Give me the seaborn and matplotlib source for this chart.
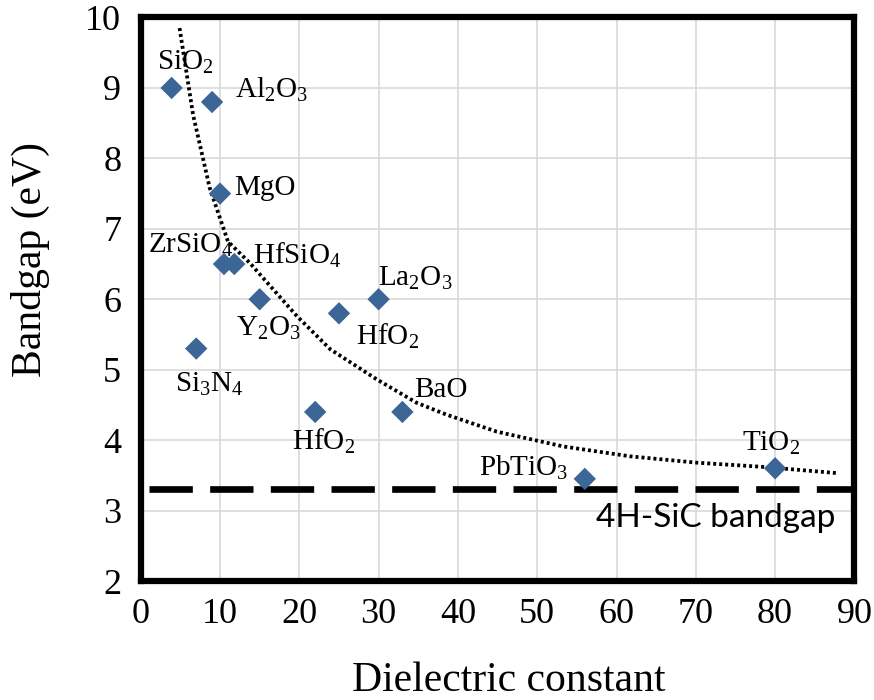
import matplotlib
matplotlib.use("Agg")
import matplotlib.pyplot as plt
import seaborn as sns
import pandas as pd

# ---- data ----
materials = ["SiO2", "Al2O3", "MgO", "ZrSiO4", "HfSiO4", "Y2O3", "HfO2_a",
             "La2O3", "Si3N4", "HfO2_b", "BaO", "PbTiO3", "TiO2"]
labels = [r"SiO$_2$", r"Al$_2$O$_3$", "MgO", r"ZrSiO$_4$", r"HfSiO$_4$",
          r"Y$_2$O$_3$", r"HfO$_2$", r"La$_2$O$_3$", r"Si$_3$N$_4$",
          r"HfO$_2$", "BaO", r"PbTiO$_3$", r"TiO$_2$"]
dielectric = [3.9, 9.0, 10.0, 10.5, 11.8, 15.0, 25.0, 30.0, 7.0, 22.0, 33.0, 56.0, 80.0]
bandgap = [9.0, 8.8, 7.5, 6.5, 6.5, 6.0, 5.8, 6.0, 5.3, 4.4, 4.4, 3.45, 3.6]

# trend line (dotted)
trend_x = [4.9, 6.6, 8.7, 11.0, 13.8, 19.7, 23.9, 29.8, 34.8, 38.6, 44.9, 53.3, 61.7, 70.1, 78.5, 88.0]
trend_y = [9.85, 8.62, 7.58, 6.82, 6.51, 5.76, 5.29, 4.86, 4.53, 4.36, 4.12, 3.91, 3.77, 3.68, 3.62, 3.53]

# 4H-SiC bandgap reference line
sic_x = [1.0, 90.0]
sic_y = [3.3, 3.3]

x_ticks = list(range(0, 91, 10))
y_ticks = list(range(2, 11, 1))

# label offsets in pixels (dx, dy) and horizontal alignment
label_offsets = {
    "SiO2": (-15, 18, "left"), "Al2O3": (23, 4, "left"), "MgO": (14, -1, "left"),
    "ZrSiO4": (-76, 11, "left"), "HfSiO4": (19, 0, "left"), "Y2O3": (-24, -37, "left"),
    "HfO2_a": (17, -31, "left"), "La2O3": (-1, 13, "left"), "Si3N4": (-21, -43, "left"),
    "HfO2_b": (-23, -38, "left"), "BaO": (12, 15, "left"), "PbTiO3": (-16, 3, "right"),
    "TiO2": (-33, 17, "left"),
}

df = pd.DataFrame({"material": materials, "label": labels,
                   "k": dielectric, "Eg": bandgap})
trend = pd.DataFrame({"k": trend_x, "Eg": trend_y})
sic = pd.DataFrame({"k": sic_x, "Eg": sic_y})

sns.set_theme(style="white")
plt.rcParams["font.family"] = ["Liberation Serif", "DejaVu Serif"]
plt.rcParams["text.color"] = "black"
plt.rcParams["mathtext.fontset"] = "custom"
plt.rcParams["mathtext.rm"] = "Liberation Serif"
plt.rcParams["mathtext.it"] = "Liberation Serif:italic"
plt.rcParams["mathtext.bf"] = "Liberation Serif:bold"

fig = plt.figure(figsize=(8.74, 7.0), dpi=100)
ax = fig.add_axes([0.161, 0.17, 0.8166, 0.805])

sns.lineplot(data=sic, x="k", y="Eg", ax=ax, color="black", linewidth=4.8,
             zorder=2)
ax.lines[-1].set_dashes((6.5, 2.6))
sns.lineplot(data=trend, x="k", y="Eg", ax=ax, color="black", linewidth=2.7,
             zorder=3)
ax.lines[-1].set_dashes((0.8, 0.8))
sns.scatterplot(data=df, x="k", y="Eg", ax=ax, marker="D", s=130,
                color="#3b6696", edgecolor="none", zorder=4)

for _, row in df.iterrows():
    dx, dy, ha = label_offsets[row["material"]]
    ax.annotate(row["label"], (row["k"], row["Eg"]), xytext=(dx, dy),
                textcoords="offset pixels", ha=ha, va="baseline",
                fontsize=21, color="black", zorder=5)

ax.text(0.638, 0.096, "4H-SiC bandgap", transform=ax.transAxes,
        fontsize=24, family=["Lato", "DejaVu Sans"], ha="left", va="baseline",
        color="black")

ax.set_xlim(0, 90)
ax.set_ylim(2, 10)
ax.set_xticks(x_ticks)
ax.set_yticks(y_ticks)
ax.grid(True, color="#d9d9d9", linewidth=1.2)
ax.set_axisbelow(True)
for sp in ax.spines.values():
    sp.set_visible(True)
    sp.set_color("black")
    sp.set_linewidth(4.5)
ax.tick_params(axis="both", length=0, labelsize=26, colors="black")
ax.tick_params(axis="x", pad=12)
ax.tick_params(axis="y", pad=14)

ax.set_xlabel("Dielectric constant", fontsize=30, color="black")
ax.set_ylabel("Bandgap (eV)", fontsize=30, color="black")
ax.xaxis.set_label_coords(0.516, -0.142)
ax.yaxis.set_label_coords(-0.155, 0.57)
ax.xaxis.label.set_va("top")
ax.yaxis.label.set_va("center")

fig.savefig("out.png", dpi=100)
